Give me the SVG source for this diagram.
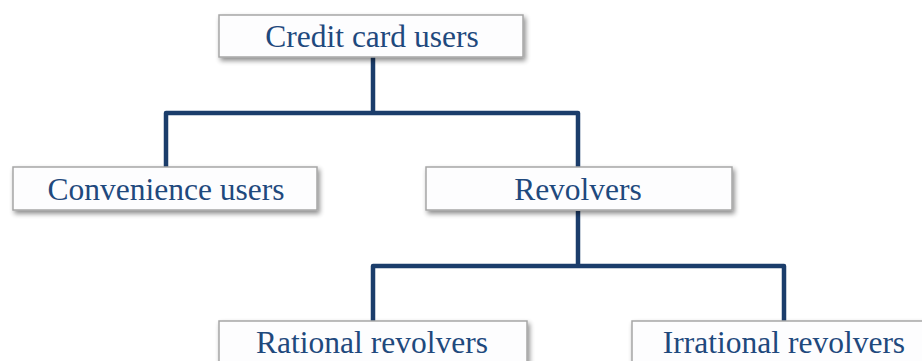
<svg xmlns="http://www.w3.org/2000/svg" width="922" height="361" viewBox="0 0 922 361">
<defs>
<filter id="sh" x="-10%" y="-30%" width="120%" height="170%">
<feGaussianBlur in="SourceAlpha" stdDeviation="2.5"/>
<feOffset dx="2" dy="3" result="b"/>
<feComponentTransfer><feFuncA type="linear" slope="0.45"/></feComponentTransfer>
<feMerge><feMergeNode/><feMergeNode in="SourceGraphic"/></feMerge>
</filter>
</defs>
<style>
.box{fill:#fdfdfe;stroke:#a6a6a6;stroke-width:1.5;filter:url(#sh)}
.lbl{font-size:31.5px;fill:#1f497d;text-anchor:middle}
.conn{fill:none;stroke:#1b3d6b;stroke-width:4.5;stroke-linejoin:round;stroke-linecap:butt}
</style>
<rect width="922" height="361" fill="#ffffff"/>
<g id="connectors">
<path class="conn" d="M373,57 V113"/>
<path class="conn" d="M166,167 V113 H578 V167"/>
<path class="conn" d="M578,211 V266"/>
<path class="conn" d="M373,321 V266 H784 V321"/>
</g>
<g font-family="Liberation Serif, Times New Roman, serif">
<g id="credit-card-users">
<rect class="box" x="219" y="15" width="304" height="42"/>
<text class="lbl" x="372" y="47">Credit card users</text>
</g>
<g id="convenience-users">
<rect class="box" x="13" y="167" width="304" height="43"/>
<text class="lbl" x="166" y="200">Convenience users</text>
</g>
<g id="revolvers">
<rect class="box" x="426" y="167" width="306" height="43"/>
<text class="lbl" x="578" y="200">Revolvers</text>
</g>
<g id="rational-revolvers">
<rect class="box" x="219" y="321" width="308" height="50"/>
<text class="lbl" x="372" y="353">Rational revolvers</text>
</g>
<g id="irrational-revolvers">
<rect class="box" x="632" y="321" width="304" height="50"/>
<text class="lbl" x="784" y="353">Irrational revolvers</text>
</g>
</g>
</svg>
